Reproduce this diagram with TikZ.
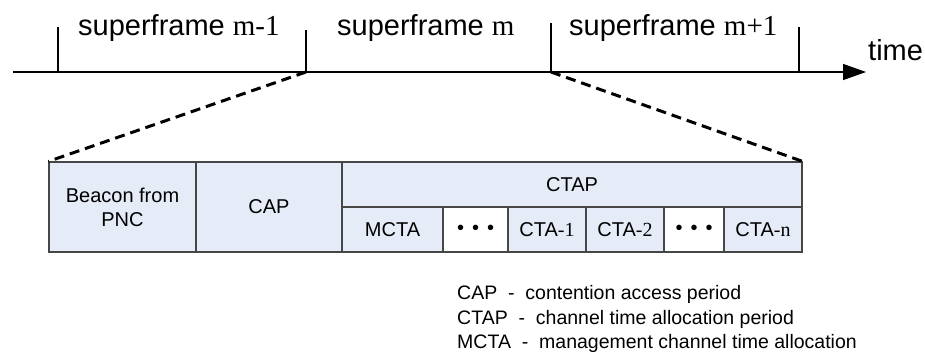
\documentclass[tikz,border=0pt]{standalone}
\usepackage{fontspec}
\setmainfont{Liberation Sans}
\newfontfamily\tms{Liberation Serif}
\usetikzlibrary{arrows.meta,positioning}
\definecolor{cellfill}{RGB}{230,236,247}
\definecolor{cellline}{RGB}{70,70,70}
\tikzset{
  cell/.style={
    rectangle,
    draw=cellline, line width=1.2pt,
    fill=cellfill,
    inner sep=0pt,
    minimum height=45pt,
    align=center,
    font=\fontsize{20}{24}\selectfont},
  gapcell/.style={cell, fill=white},
  sflabel/.style={anchor=base west, inner sep=0pt, font=\fontsize{29}{34}\selectfont},
}
\begin{document}
\begin{tikzpicture}[
    x=1pt, y=-1pt,
    axis/.style={line width=1.5pt, -{Triangle[length=23pt,width=16pt]}},
    tick line/.style={line width=1.5pt},
    zoom line/.style={line width=3pt, dash pattern=on 10pt off 6pt}
    ]
    \useasboundingbox (0,0) rectangle (925,356);

    % time axis
    \coordinate (start) at (13,72);
    \coordinate (tip) at (866,72);
    \draw[axis] (start) -- (tip);
    \node[sflabel] (time) at (868,60) {time};

    % superframe borders
    \coordinate (t0) at (58,72);
    \coordinate (t1) at (306,72);
    \coordinate (t2) at (551,72);
    \coordinate (t3) at (799,72);
    \draw[tick line] (t0) -- ++(0,-45);
    \draw[tick line] (t1) -- ++(0,-42);
    \draw[tick line] (t2) -- ++(0,-49);
    \draw[tick line] (t3) -- ++(0,-45);

    \node[sflabel] (sfa) at (78,35) {superframe {\tms m-1}};
    \node[sflabel] (sfb) at (337,35) {superframe {\tms m}};
    \node[sflabel] (sfc) at (569,35) {superframe {\tms m+1}};

    % superframe m
    \node[cell, minimum width=147pt, minimum height=90pt] (beacon) at (122.5,207) {Beacon from\\PNC};
    \node[cell, minimum width=146pt, minimum height=90pt] (cap) at (269,207) {CAP};
    \node[cell, minimum width=460pt] (ctap) at (572,184.5) {CTAP};
    \node[cell, minimum width=101pt] (mcta) at (392.5,229.5) {MCTA};
    \node[gapcell, minimum width=64pt] (dotsa) at (475.5,229.5) {\textbullet\hspace{8pt}\textbullet\hspace{8pt}\textbullet};
    \node[cell, minimum width=78pt] (ctaa) at (547,229.5) {CTA{\tms -1}};
    \node[cell, minimum width=78pt] (ctab) at (625,229.5) {CTA{\tms -2}};
    \node[gapcell, minimum width=60pt] (dotsb) at (694,229.5) {\textbullet\hspace{8pt}\textbullet\hspace{8pt}\textbullet};
    \node[cell, minimum width=78pt] (ctan) at (763,229.5) {CTA{\tms -n}};

    % zoom lines
    \draw[zoom line] (t1) -- (beacon.north west);
    \draw[zoom line] (t2) -- (ctap.north east);

    % legend
    \node[anchor=west, align=left, inner sep=0pt, font=\fontsize{19.5}{24.5}\selectfont] (legend) at (457,319)
      {CAP\ \ -\ \ contention access period\\
       CTAP\ \ -\ \ channel time allocation period\\
       MCTA\ \ -\ \ management channel time allocation};
\end{tikzpicture}
\end{document}
